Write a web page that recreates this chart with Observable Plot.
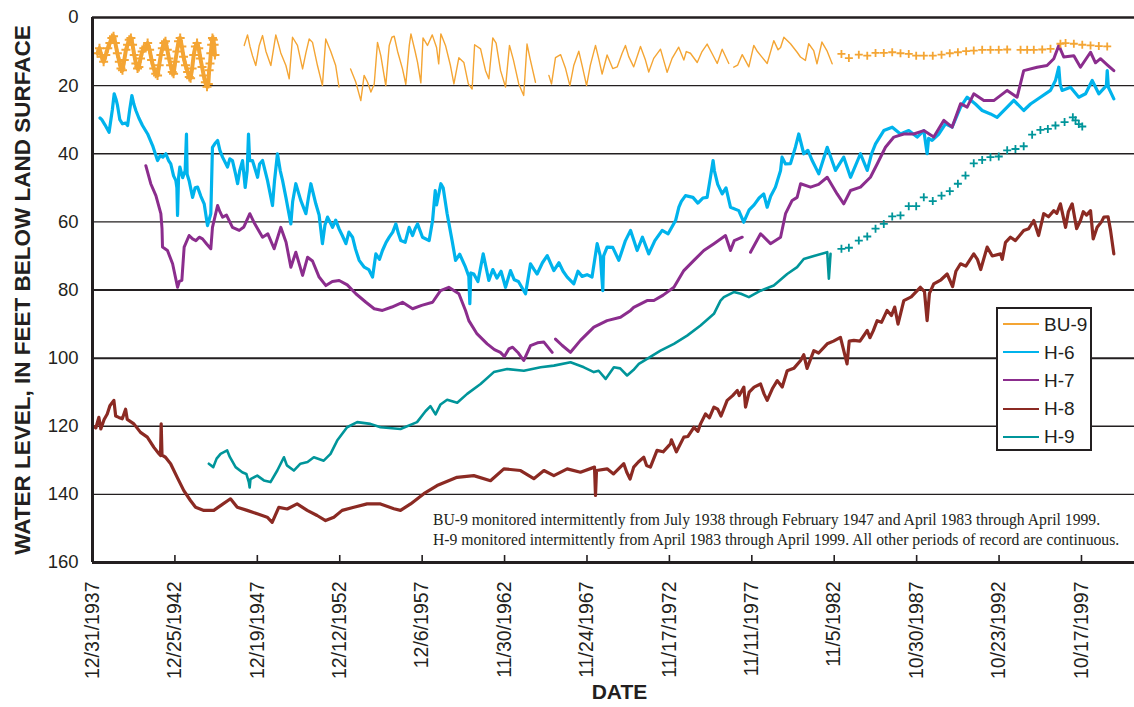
<!DOCTYPE html>
<html>
<head>
<meta charset="utf-8">
<script src="https://cdn.jsdelivr.net/npm/d3@7"></script>
<script src="https://cdn.jsdelivr.net/npm/@observablehq/plot@0.6"></script>
<style>
  html, body { margin: 0; padding: 0; background: #fff; }
  #wrap { position: relative; width: 1134px; height: 707px; font-family: "Liberation Sans", Arial, sans-serif; color: #231f20; }
  #legend { position: absolute; left: 996px; top: 307px; width: 92px; height: 139px; border: 2.5px solid #231f20; background: #fff; padding-top: 1px; box-sizing: content-box; }
  #legend .row { display: flex; align-items: center; height: 28.2px; }
  #legend .swatch { width: 36px; height: 2px; margin-left: 5px; margin-right: 5px; }
  #legend .name { font-size: 19px; line-height: 19px; }
  #note { position: absolute; left: 433px; top: 510px; font-family: "Liberation Serif", "Times New Roman", serif; font-size: 15.7px; line-height: 20px; color: #231f20; white-space: nowrap; }
</style>
</head>
<body>
<div id="wrap"></div>
<script>
// ---- Series names and colours ----
const seriesNames = ["BU-9", "H-6", "H-7", "H-8", "H-9"];
const seriesColors = ["#f4a534", "#00b3ec", "#8b2d8d", "#8b2a23", "#00959a"];

// ---- Axis ticks ----
const dateTickLabels = ["12/31/1937", "12/25/1942", "12/19/1947", "12/12/1952", "12/6/1957", "11/30/1962",
  "11/24/1967", "11/17/1972", "11/11/1977", "11/5/1982", "10/30/1987", "10/23/1992", "10/17/1997"];
const levelTicks = [0, 20, 40, 60, 80, 100, 120, 140, 160];
const xDomainLabels = ["12/31/1937", "12/31/2000"];

// ---- Water levels: [decimal year, feet below land surface]; null marks a break in record ----
const bu9Early = [
  [1938.30, 10.5], [1938.42, 9.0], [1938.55, 11.5], [1938.67, 13.0], [1938.80, 11.0], [1938.92, 9.0],
  [1939.05, 7.5], [1939.17, 6.0], [1939.27, 5.5], [1939.38, 7.5], [1939.50, 10.5], [1939.62, 13.0],
  [1939.72, 15.0], [1939.81, 15.5], [1939.92, 12.5], [1940.02, 9.5], [1940.12, 8.0], [1940.22, 6.5],
  [1940.32, 6.0], [1940.42, 8.0], [1940.52, 11.0], [1940.62, 13.5], [1940.72, 15.0], [1940.80, 14.5],
  [1940.90, 12.0], [1941.00, 10.0], [1941.10, 9.0], [1941.22, 8.5], [1941.33, 7.5], [1941.45, 9.5],
  [1941.57, 12.5], [1941.70, 15.0], [1941.82, 16.5], [1941.93, 17.0], [1942.03, 14.0], [1942.13, 11.0],
  [1942.22, 9.0], [1942.32, 7.5], [1942.41, 7.0], [1942.52, 9.5], [1942.62, 12.0], [1942.72, 14.0],
  [1942.82, 16.0], [1942.90, 16.5], [1943.00, 13.0], [1943.10, 10.0], [1943.20, 7.0], [1943.30, 6.0],
  [1943.40, 8.5], [1943.50, 11.5], [1943.62, 14.0], [1943.75, 16.0], [1943.85, 17.5], [1943.93, 17.8],
  [1944.02, 15.0], [1944.12, 11.0], [1944.22, 8.5], [1944.32, 7.5], [1944.42, 9.0], [1944.52, 12.0],
  [1944.62, 14.5], [1944.72, 17.0], [1944.82, 19.0], [1944.92, 20.3], [1945.00, 19.5], [1945.05, 15.5],
  [1945.10, 13.5], [1945.15, 10.5], [1945.20, 8.0], [1945.25, 6.0], [1945.30, 6.5], [1945.35, 8.0],
  [1945.40, 11.0]
];
const bu9Late = [
  [1983.28, 10.7], [1983.73, 11.9], [1984.33, 10.9], [1984.84, 11.2], [1985.34, 10.4], [1985.84, 10.4],
  [1986.35, 10.2], [1986.85, 10.5], [1987.35, 10.7], [1987.80, 11.2], [1988.26, 11.2], [1988.80, 11.2],
  [1989.33, 10.9], [1989.83, 10.5], [1990.32, 10.2], [1990.82, 9.9], [1991.28, 9.7], [1991.79, 9.5],
  [1992.29, 9.5], [1992.79, 9.5], [1993.30, 9.4], [1994.11, 9.5], [1994.51, 9.5], [1994.91, 9.5],
  [1995.42, 9.4], [1995.92, 9.2], [1996.52, 7.7], [1996.83, 7.5], [1997.33, 7.7], [1997.84, 8.0],
  [1998.34, 8.2], [1998.84, 8.4], [1999.35, 8.5]
];
const bu9Line = [
  [1947.17, 8.2], [1947.37, 5.1], [1947.52, 8.5], [1947.67, 11.2], [1947.87, 14.1], [1948.08, 8.2],
  [1948.28, 5.3], [1948.48, 9.9], [1948.78, 14.1], [1949.08, 5.1], [1949.25, 8.0], [1949.38, 10.4],
  [1949.69, 14.1], [1949.89, 18.0], [1950.09, 5.8], [1950.39, 8.2], [1950.70, 15.1], [1950.90, 10.4],
  [1951.10, 6.3], [1951.30, 7.3], [1951.60, 14.1], [1951.90, 20.0], [1952.10, 6.3], [1952.40, 9.9],
  [1952.70, 14.1], [1952.90, 20.4], [1953.20, null], [1953.60, 15.1], [1953.92, 19.0], [1954.22, 24.4],
  [1954.42, 17.0], [1954.63, 19.0], [1954.83, 21.9], [1955.03, 19.6], [1955.23, 7.3], [1955.43, 11.2],
  [1955.73, 20.0], [1955.94, 8.2], [1956.10, 5.8], [1956.24, 5.5], [1956.44, 9.9], [1956.74, 15.1],
  [1956.94, 19.6], [1957.15, 8.2], [1957.25, 4.8], [1957.50, 9.9], [1957.65, 13.2], [1957.85, 19.2],
  [1957.98, 6.0], [1958.25, 8.2], [1958.54, 5.1], [1958.80, 8.8], [1958.93, 13.6], [1959.06, 4.8],
  [1959.34, 8.2], [1959.64, 14.1], [1959.85, 19.5], [1960.15, 11.8], [1960.45, 13.2], [1960.72, 19.5],
  [1960.95, 21.0], [1961.10, 8.0], [1961.46, 9.2], [1961.76, 15.6], [1961.96, 18.0], [1962.20, 6.0],
  [1962.40, 7.5], [1962.67, 15.6], [1962.97, 20.4], [1963.21, 8.2], [1963.45, 12.5], [1963.77, 19.5],
  [1964.07, 22.9], [1964.27, 7.8], [1964.45, 12.0], [1964.78, 19.0], [1965.20, null], [1965.59, 17.0],
  [1965.75, 19.5], [1965.99, 11.8], [1966.30, 10.9], [1966.60, 15.0], [1966.86, 20.0], [1967.10, 14.0],
  [1967.40, 9.9], [1967.62, 14.5], [1967.87, 20.0], [1968.10, 14.0], [1968.41, 8.2], [1968.60, 12.0],
  [1968.81, 16.6], [1969.11, 11.0], [1969.45, 15.0], [1969.72, 14.5], [1970.02, 10.5], [1970.22, 8.2],
  [1970.42, 11.5], [1970.72, 14.5], [1971.13, 8.5], [1971.43, 12.5], [1971.63, 16.0], [1971.93, 12.0],
  [1972.34, 9.3], [1972.74, 16.1], [1973.04, 12.0], [1973.44, 8.7], [1973.75, 12.5], [1973.90, 10.0],
  [1974.15, 10.5], [1974.56, 13.2], [1974.85, 10.0], [1975.16, 7.8], [1975.45, 10.5], [1975.77, 13.5],
  [1976.07, 9.3], [1976.47, 13.5], [1976.62, null], [1976.77, 14.6], [1977.00, 14.0], [1977.28, 10.9],
  [1977.68, 14.5], [1977.98, 8.2], [1978.20, 10.0], [1978.45, 11.5], [1978.79, 13.5], [1979.19, 6.8],
  [1979.45, 9.5], [1979.60, 8.8], [1979.80, 5.8], [1980.20, 7.7], [1980.60, 10.2], [1980.80, 11.6],
  [1981.10, 12.6], [1981.30, 7.7], [1981.60, 9.7], [1981.80, 13.6], [1982.10, 7.2], [1982.40, 9.7],
  [1982.72, 13.6]
];
const h6 = [
  [1938.45, 29.5], [1938.56, 30.0], [1938.75, 31.5], [1939.00, 33.7], [1939.20, 27.0], [1939.31, 22.4],
  [1939.42, 24.0], [1939.51, 25.8], [1939.65, 30.0], [1939.81, 31.2], [1940.00, 31.0], [1940.12, 31.7],
  [1940.25, 27.0], [1940.38, 22.9], [1940.50, 25.5], [1940.62, 27.3], [1940.80, 29.5], [1941.02, 31.7],
  [1941.33, 34.2], [1941.63, 37.6], [1941.93, 42.0], [1942.10, 40.5], [1942.25, 41.0], [1942.43, 40.0],
  [1942.60, 42.0], [1942.73, 43.0], [1942.90, 46.5], [1943.04, 47.9], [1943.10, 50.0], [1943.14, 58.1],
  [1943.20, 47.0], [1943.28, 43.9], [1943.45, 47.0], [1943.60, 45.0], [1943.68, 34.2], [1943.72, 46.0],
  [1943.84, 47.9], [1944.05, 52.8], [1944.20, 50.0], [1944.35, 49.8], [1944.55, 52.5], [1944.75, 54.7],
  [1944.95, 61.1], [1945.15, 57.6], [1945.25, 38.1], [1945.40, 37.0], [1945.56, 36.1], [1945.70, 39.0],
  [1945.86, 41.0], [1946.16, 43.9], [1946.30, 41.5], [1946.46, 42.0], [1946.65, 46.0], [1946.77, 48.8],
  [1946.90, 45.0], [1947.07, 42.0], [1947.23, 49.9], [1947.35, 45.0], [1947.43, 34.2], [1947.50, 42.0],
  [1947.67, 42.0], [1947.98, 46.9], [1948.10, 43.0], [1948.28, 42.0], [1948.58, 47.9], [1948.88, 55.2],
  [1949.00, 48.0], [1949.18, 40.0], [1949.35, 45.0], [1949.49, 47.9], [1949.69, 52.8], [1949.99, 60.6],
  [1950.10, 54.0], [1950.29, 48.8], [1950.59, 53.7], [1950.90, 57.6], [1951.05, 53.0], [1951.20, 48.8],
  [1951.50, 54.7], [1951.70, 58.0], [1951.90, 66.4], [1952.05, 61.0], [1952.21, 58.6], [1952.51, 61.6],
  [1952.70, 59.5], [1952.90, 62.0], [1953.10, 64.0], [1953.32, 66.4], [1953.50, 63.0], [1953.72, 64.5],
  [1953.90, 68.0], [1954.12, 71.3], [1954.43, 73.3], [1954.70, 74.0], [1954.93, 76.2], [1955.13, 69.4],
  [1955.35, 71.0], [1955.53, 68.4], [1955.75, 66.0], [1955.94, 64.5], [1956.15, 63.0], [1956.34, 60.6],
  [1956.50, 63.5], [1956.64, 65.5], [1956.90, 66.0], [1957.14, 61.6], [1957.35, 64.0], [1957.50, 62.0],
  [1957.65, 60.6], [1957.95, 64.5], [1958.35, 65.5], [1958.56, 59.6], [1958.72, 50.8], [1958.80, 55.0],
  [1959.06, 48.8], [1959.20, 50.0], [1959.44, 57.6], [1959.74, 65.5], [1959.95, 71.3], [1960.20, 69.5],
  [1960.55, 73.3], [1960.75, 76.0], [1960.81, 84.0], [1960.87, 75.0], [1961.05, 75.3], [1961.30, 77.5],
  [1961.62, 69.4], [1961.96, 77.2], [1962.20, 74.0], [1962.45, 76.5], [1962.70, 74.5], [1962.97, 79.2],
  [1963.27, 74.3], [1963.50, 77.0], [1963.75, 77.5], [1964.18, 81.1], [1964.48, 72.3], [1964.70, 74.0],
  [1964.88, 75.3], [1965.20, 72.0], [1965.49, 69.9], [1965.89, 74.3], [1966.20, 72.0], [1966.45, 74.5],
  [1966.70, 76.2], [1967.10, 78.2], [1967.35, 74.5], [1967.60, 76.0], [1967.90, 75.5], [1968.20, 76.2],
  [1968.51, 66.4], [1968.70, 70.0], [1968.85, 80.2], [1968.90, 70.0], [1969.11, 67.4], [1969.45, 67.5],
  [1969.82, 71.3], [1970.22, 65.5], [1970.53, 62.5], [1970.93, 68.4], [1971.25, 64.5], [1971.63, 69.4],
  [1972.00, 65.5], [1972.44, 62.5], [1972.80, 63.5], [1973.25, 59.6], [1973.45, 55.7], [1973.60, 54.0],
  [1973.85, 52.3], [1974.30, 52.8], [1974.60, 54.5], [1974.90, 53.0], [1975.16, 52.8], [1975.36, 46.9],
  [1975.52, 42.0], [1975.60, 45.0], [1975.80, 49.0], [1976.07, 51.8], [1976.30, 50.0], [1976.57, 55.7],
  [1977.07, 56.7], [1977.37, 60.1], [1977.70, 56.5], [1978.00, 55.0], [1978.30, 53.0], [1978.58, 51.8],
  [1978.79, 55.7], [1979.00, 52.5], [1979.29, 49.8], [1979.60, 44.9], [1979.69, 41.0], [1979.90, 43.0],
  [1980.20, 42.9], [1980.50, 38.0], [1980.70, 34.2], [1981.00, 40.0], [1981.25, 39.0], [1981.51, 42.0],
  [1981.91, 45.9], [1982.42, 38.1], [1982.92, 44.9], [1983.42, 41.0], [1983.83, 46.9], [1984.43, 40.0],
  [1984.84, 44.9], [1985.10, 40.0], [1985.34, 37.1], [1985.84, 33.2], [1986.35, 32.2], [1986.85, 34.2],
  [1987.35, 33.2], [1987.86, 35.1], [1988.26, 33.2], [1988.46, 40.0], [1988.55, 35.5], [1988.76, 36.1],
  [1989.17, 34.2], [1989.57, 31.2], [1989.97, 32.2], [1990.48, 26.3], [1990.88, 23.4], [1991.38, 25.4],
  [1991.79, 27.3], [1992.29, 28.3], [1992.69, 29.3], [1993.30, 26.3], [1993.70, 24.3], [1994.30, 27.3],
  [1994.71, 25.4], [1995.31, 23.4], [1995.92, 21.4], [1996.22, 18.5], [1996.42, 14.6], [1996.50, 19.5],
  [1996.62, 21.4], [1997.13, 20.5], [1997.63, 23.4], [1998.04, 22.4], [1998.44, 18.5], [1998.84, 22.4],
  [1999.30, 20.0], [1999.35, 15.6], [1999.42, 20.5], [1999.75, 23.9]
];
const h7 = [
  [1941.22, 43.5], [1941.52, 48.8], [1941.83, 52.3], [1942.13, 57.6], [1942.20, 62.0], [1942.23, 67.4],
  [1942.53, 68.4], [1942.84, 72.3], [1943.14, 79.2], [1943.25, 77.5], [1943.40, 77.2], [1943.54, 67.4],
  [1943.84, 64.0], [1944.05, 65.0], [1944.25, 65.5], [1944.45, 64.5], [1944.65, 65.0], [1944.90, 66.5],
  [1945.15, 67.9], [1945.25, 61.6], [1945.56, 55.2], [1945.70, 57.0], [1945.86, 58.6], [1946.10, 58.0],
  [1946.46, 61.6], [1946.87, 62.5], [1947.15, 61.5], [1947.51, 57.6], [1947.80, 60.5], [1948.28, 64.5],
  [1948.60, 63.5], [1948.98, 67.9], [1949.38, 61.6], [1949.70, 66.0], [1949.99, 73.3], [1950.29, 68.9],
  [1950.70, 75.7], [1951.00, 70.4], [1951.30, 71.5], [1951.70, 76.2], [1952.11, 78.7], [1952.50, 77.5],
  [1952.91, 77.2], [1953.40, 78.5], [1953.92, 81.1], [1954.53, 83.6], [1955.03, 85.5], [1955.53, 86.0],
  [1956.10, 85.0], [1956.74, 83.6], [1957.35, 85.5], [1957.90, 84.5], [1958.56, 83.6], [1959.04, 80.2],
  [1959.54, 79.2], [1960.15, 81.1], [1960.55, 86.0], [1960.75, 89.0], [1961.25, 92.9], [1961.86, 95.8],
  [1962.30, 97.5], [1962.66, 98.3], [1962.90, 99.5], [1963.17, 97.3], [1963.40, 96.8], [1963.75, 98.5],
  [1964.07, 100.7], [1964.48, 96.3], [1964.90, 95.5], [1965.29, 95.3], [1965.79, 98.3], [1965.90, null],
  [1965.99, 94.4], [1966.40, 96.3], [1966.90, 98.3], [1967.50, 94.8], [1968.31, 90.9], [1969.11, 89.0],
  [1969.92, 88.0], [1970.53, 86.0], [1970.72, 85.1], [1971.53, 83.1], [1971.94, 83.1], [1972.50, 81.5],
  [1973.15, 79.2], [1973.75, 74.3], [1974.36, 71.3], [1974.96, 68.4], [1975.57, 66.4], [1976.27, 64.0],
  [1976.57, 68.4], [1976.80, 65.5], [1977.28, 64.5], [1977.50, null], [1977.78, 68.9], [1978.39, 63.5],
  [1978.99, 66.4], [1979.60, 64.5], [1979.90, 57.6], [1980.30, 53.7], [1980.60, 52.8], [1980.81, 48.8],
  [1981.41, 49.8], [1981.90, 49.0], [1982.42, 46.9], [1983.02, 51.8], [1983.42, 54.7], [1983.83, 50.8],
  [1984.43, 49.8], [1985.03, 46.9], [1985.44, 43.0], [1985.94, 38.1], [1986.45, 35.1], [1987.05, 34.2],
  [1987.65, 34.2], [1988.26, 33.2], [1988.86, 35.1], [1989.47, 30.2], [1989.97, 32.2], [1990.48, 25.3],
  [1990.88, 26.3], [1991.28, 22.4], [1991.89, 24.4], [1992.49, 24.4], [1993.30, 21.4], [1993.90, 23.4],
  [1994.30, 15.6], [1995.11, 14.6], [1995.71, 14.1], [1996.12, 12.1], [1996.42, 8.2], [1996.72, 11.6],
  [1997.33, 11.2], [1997.73, 14.6], [1998.34, 10.2], [1998.64, 13.3], [1998.94, 12.1], [1999.35, 13.9],
  [1999.75, 15.6]
];
const h8 = [
  [1938.05, 120.0], [1938.20, 120.5], [1938.38, 117.4], [1938.50, 120.8], [1938.70, 118.0], [1938.89, 116.4],
  [1939.05, 114.0], [1939.29, 112.4], [1939.40, 117.0], [1939.59, 117.4], [1939.80, 117.8], [1940.00, 115.0],
  [1940.10, 118.0], [1940.50, 119.3], [1940.90, 121.8], [1941.31, 123.2], [1941.71, 126.2], [1942.00, 128.0],
  [1942.11, 128.6], [1942.15, 119.3], [1942.20, 128.5], [1942.41, 129.1], [1942.72, 131.0], [1943.12, 135.0],
  [1943.52, 138.9], [1943.92, 141.8], [1944.23, 143.8], [1944.73, 144.7], [1945.33, 144.7], [1945.74, 143.3],
  [1946.34, 141.3], [1946.75, 143.8], [1947.35, 144.7], [1947.96, 145.7], [1948.56, 146.7], [1948.86, 148.2],
  [1949.26, 143.8], [1949.77, 144.3], [1950.37, 142.8], [1950.98, 144.7], [1951.58, 146.2], [1952.09, 147.7],
  [1952.59, 146.7], [1953.09, 144.7], [1953.80, 143.8], [1954.60, 142.8], [1955.41, 142.8], [1956.22, 144.2],
  [1956.62, 144.7], [1957.23, 142.8], [1958.03, 139.8], [1958.83, 137.4], [1960.04, 135.0], [1961.05, 134.5],
  [1962.06, 136.0], [1962.87, 132.5], [1963.88, 133.0], [1964.68, 135.4], [1965.29, 133.0], [1965.89, 134.5],
  [1966.70, 132.5], [1967.50, 133.5], [1968.35, 132.0], [1968.41, 140.3], [1968.47, 133.0], [1969.11, 132.5],
  [1969.50, 134.0], [1970.12, 131.0], [1970.30, 133.5], [1970.50, 135.5], [1970.72, 132.0], [1971.00, 130.5],
  [1971.33, 129.1], [1971.50, 131.5], [1971.73, 132.0], [1972.13, 127.1], [1972.50, 127.5], [1972.94, 125.2],
  [1973.00, 124.0], [1973.30, 127.5], [1973.75, 123.2], [1974.00, 123.0], [1974.36, 120.3], [1974.60, 121.5],
  [1974.76, 119.3], [1975.06, 116.4], [1975.30, 117.5], [1975.57, 114.4], [1975.80, 115.0], [1976.00, 117.0],
  [1976.37, 112.4], [1976.70, 111.0], [1976.98, 109.5], [1977.10, 111.0], [1977.38, 108.5], [1977.48, 114.4],
  [1977.70, 110.0], [1978.00, 108.5], [1978.39, 107.6], [1978.60, 110.5], [1978.79, 112.4], [1979.10, 109.0],
  [1979.40, 106.6], [1979.70, 108.5], [1980.00, 103.7], [1980.40, 103.0], [1980.81, 100.7], [1981.00, 99.0],
  [1981.20, 103.0], [1981.61, 97.8], [1981.90, 98.5], [1982.42, 95.8], [1982.80, 95.0], [1983.22, 93.9],
  [1983.62, 101.7], [1983.75, 95.0], [1984.03, 94.8], [1984.40, 95.0], [1984.84, 91.9], [1985.00, 94.0],
  [1985.20, 92.0], [1985.44, 89.0], [1985.70, 89.5], [1986.04, 86.0], [1986.30, 87.5], [1986.50, 85.0],
  [1986.70, 90.0], [1987.05, 83.1], [1987.50, 82.0], [1988.05, 79.2], [1988.30, 80.5], [1988.46, 89.0],
  [1988.60, 81.0], [1988.86, 78.2], [1989.30, 77.0], [1989.67, 75.3], [1990.00, 79.0], [1990.20, 74.5],
  [1990.48, 72.3], [1990.80, 73.0], [1991.28, 69.4], [1991.50, 71.0], [1991.70, 74.0], [1992.09, 67.4],
  [1992.40, 70.0], [1992.90, 69.4], [1993.00, 71.0], [1993.20, 66.0], [1993.50, 64.5], [1993.80, 65.5],
  [1994.30, 62.5], [1994.60, 62.0], [1994.91, 59.6], [1995.00, 61.0], [1995.20, 64.0], [1995.51, 57.6],
  [1995.80, 58.5], [1996.12, 56.7], [1996.30, 57.5], [1996.52, 54.7], [1996.83, 61.6], [1997.00, 57.0],
  [1997.23, 54.7], [1997.50, 62.0], [1997.73, 59.6], [1997.90, 57.0], [1998.10, 58.0], [1998.34, 56.7],
  [1998.50, 65.0], [1998.74, 61.6], [1999.00, 60.0], [1999.15, 58.6], [1999.40, 58.5], [1999.55, 62.5],
  [1999.75, 69.4]
];
const h9Line = [
  [1945.03, 131.0], [1945.30, 132.0], [1945.50, 129.5], [1945.74, 128.1], [1946.14, 127.1], [1946.30, 129.0],
  [1946.65, 132.0], [1947.05, 133.5], [1947.30, 134.0], [1947.45, 136.4], [1947.50, 138.0], [1947.55, 135.5],
  [1947.96, 134.5], [1948.36, 135.9], [1948.76, 136.4], [1949.17, 133.0], [1949.57, 129.1], [1949.75, 131.5],
  [1950.17, 133.0], [1950.57, 131.0], [1951.00, 130.5], [1951.38, 129.1], [1951.98, 130.1], [1952.39, 128.1],
  [1952.79, 124.2], [1953.39, 120.3], [1954.00, 118.8], [1954.80, 119.3], [1955.41, 120.3], [1956.62, 120.8],
  [1957.62, 118.8], [1958.13, 115.6], [1958.43, 114.1], [1958.74, 116.5], [1959.04, 113.6], [1959.44, 112.2],
  [1960.05, 113.1], [1960.65, 110.5], [1961.46, 107.6], [1962.26, 104.1], [1963.07, 103.2], [1964.08, 103.7],
  [1965.09, 102.7], [1965.89, 102.2], [1966.90, 101.2], [1967.71, 102.7], [1968.31, 104.1], [1968.60, 103.7],
  [1969.02, 106.1], [1969.52, 102.7], [1969.90, 103.0], [1970.32, 105.1], [1970.70, 103.5], [1971.03, 101.7],
  [1971.53, 100.2], [1972.34, 97.8], [1973.15, 95.8], [1973.95, 93.4], [1974.76, 90.4], [1975.57, 87.0],
  [1975.97, 83.1], [1976.17, 82.1], [1976.77, 80.6], [1977.20, 81.1], [1977.68, 82.1], [1978.39, 80.2],
  [1979.19, 78.7], [1980.00, 75.3], [1980.60, 73.3], [1981.00, 70.9], [1981.61, 70.0], [1982.42, 68.9],
  [1982.52, 76.7], [1982.62, 69.4]
];
const h9Late = [
  [1983.28, 67.9], [1983.73, 67.6], [1984.33, 65.5], [1984.84, 64.3], [1985.34, 62.0], [1985.84, 60.6],
  [1986.35, 58.4], [1986.85, 58.1], [1987.35, 55.4], [1987.80, 55.4], [1988.26, 52.8], [1988.80, 53.9],
  [1989.33, 52.3], [1989.83, 51.0], [1990.32, 48.8], [1990.78, 46.4], [1991.28, 42.8], [1991.79, 41.8],
  [1992.29, 41.0], [1992.79, 40.8], [1993.30, 39.0], [1993.80, 38.6], [1994.30, 37.8], [1994.81, 34.4],
  [1995.31, 33.0], [1995.76, 32.7], [1996.22, 31.7], [1996.77, 30.7], [1997.27, 29.3], [1997.43, 30.2],
  [1997.63, 31.3], [1997.84, 32.0]
];

const noteLines = [
  "BU-9 monitored intermittently from July 1938 through February 1947 and April 1983 through April 1999.",
  "H-9 monitored intermittently from April 1983 through April 1999. All other periods of record are continuous."
];
const yTitle = "WATER LEVEL, IN FEET BELOW LAND SURFACE";
const xTitle = "DATE";

// ---- Helpers ----
const parseDate = d3.utcParse("%m/%d/%Y");
function yearToDate(t) {
  const y = Math.floor(t);
  const a = Date.UTC(y, 0, 1), b = Date.UTC(y + 1, 0, 1);
  return new Date(a + (t - y) * (b - a));
}
const rows = (pairs) => pairs.map(([t, v]) => ({date: yearToDate(t), level: v})).sort((a, b) => a.date - b.date);
const color = Object.fromEntries(seriesNames.map((n, i) => [n, seriesColors[i]]));
const tickDates = dateTickLabels.map(parseDate);
const labelFor = new Map(tickDates.map((d, i) => [+d, dateTickLabels[i]]));

// Open "+" marker used for the intermittent measurements
const crossSymbol = {
  draw(context, size) {
    const r = Math.sqrt(size / Math.PI);
    context.moveTo(-r, 0); context.lineTo(r, 0);
    context.moveTo(0, -r); context.lineTo(0, r);
  }
};

const ink = "#231f20";
const gridLevels = levelTicks.slice(1, -1);

const chart = Plot.plot({
  width: 1134,
  height: 707,
  marginLeft: 92,
  marginRight: 0,
  marginTop: 17,
  marginBottom: 145,
  style: {fontFamily: "'Liberation Sans', Arial, sans-serif", color: ink, background: "#fff"},
  x: {type: "utc", domain: xDomainLabels.map(parseDate)},
  y: {domain: [levelTicks[0], levelTicks[levelTicks.length - 1]], reverse: true},
  marks: [
    // horizontal grid
    Plot.ruleY(gridLevels, {stroke: ink, strokeWidth: (d) => (d === 80 || d === 100 ? 2 : 1.3)}),
    // series
    Plot.line(rows(h8), {x: "date", y: "level", stroke: color["H-8"], strokeWidth: 3.2, strokeLinejoin: "round"}),
    Plot.line(rows(h9Line), {x: "date", y: "level", stroke: color["H-9"], strokeWidth: 2.6, strokeLinejoin: "round"}),
    Plot.dot(rows(h9Late), {x: "date", y: "level", symbol: crossSymbol, r: 4, fill: "none", stroke: color["H-9"], strokeWidth: 1.8}),
    Plot.line(rows(h6), {x: "date", y: "level", stroke: color["H-6"], strokeWidth: 3.2, strokeLinejoin: "round"}),
    Plot.line(rows(h7), {x: "date", y: "level", stroke: color["H-7"], strokeWidth: 3, strokeLinejoin: "round"}),
    Plot.line(rows(bu9Line), {x: "date", y: "level", stroke: color["BU-9"], strokeWidth: 1.4}),
    Plot.line(rows(bu9Early), {x: "date", y: "level", stroke: color["BU-9"], strokeWidth: 4, strokeLinejoin: "round"}),
    Plot.dot(rows(bu9Early), {x: "date", y: "level", symbol: crossSymbol, r: 4.5, fill: "none", stroke: color["BU-9"], strokeWidth: 2}),
    Plot.dot(rows(bu9Late), {x: "date", y: "level", symbol: crossSymbol, r: 4, fill: "none", stroke: color["BU-9"], strokeWidth: 1.8}),
    // frame: top, bottom, left
    Plot.ruleY([levelTicks[0]], {stroke: ink, strokeWidth: 2.6}),
    Plot.ruleY([levelTicks[levelTicks.length - 1]], {stroke: ink, strokeWidth: 3}),
    Plot.ruleX([parseDate(xDomainLabels[0])], {stroke: ink, strokeWidth: 3}),
    // inward date ticks
    Plot.ruleX(tickDates, {stroke: ink, strokeWidth: 1.6, insetTop: 538}),
    // axes
    Plot.axisY({ticks: levelTicks, tickSize: 0, tickPadding: 14, fontSize: 18.5, label: null, fill: ink}),
    Plot.axisX({ticks: tickDates, tickFormat: (d) => labelFor.get(+d), tickRotate: -90, tickSize: 0, tickPadding: 19, fontSize: 19.5, label: null, fill: ink}),
    // axis titles
    Plot.text([yTitle], {frameAnchor: "left", textAnchor: "middle", dx: -70, rotate: -90, fontSize: 22.5, fontWeight: "bold", fill: ink}),
    Plot.text([xTitle], {frameAnchor: "bottom", dx: 6, dy: 136, fontSize: 21, fontWeight: "bold", fill: ink})
  ]
});

const wrap = document.getElementById("wrap");
wrap.appendChild(chart);

// Legend
const legend = document.createElement("div");
legend.id = "legend";
seriesNames.forEach((name) => {
  const row = document.createElement("div");
  row.className = "row";
  const sw = document.createElement("span");
  sw.className = "swatch";
  sw.style.background = color[name];
  const label = document.createElement("span");
  label.className = "name";
  label.textContent = name;
  row.append(sw, label);
  legend.appendChild(row);
});
wrap.appendChild(legend);

// Footnote inside the plot area
const note = document.createElement("div");
note.id = "note";
note.innerHTML = noteLines.map((s) => `<div>${s}</div>`).join("");
wrap.appendChild(note);
</script>
</body>
</html>
